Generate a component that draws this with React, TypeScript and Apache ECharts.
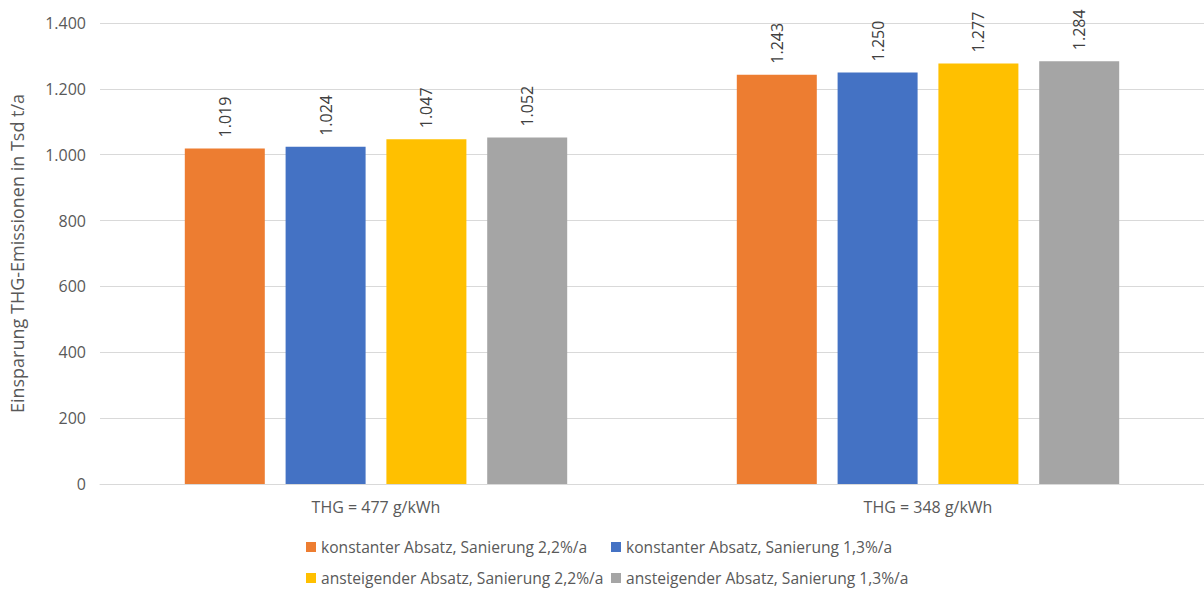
import React, { useEffect, useRef } from "react";
import * as echarts from "echarts";

const categories = ["THG = 477 g/kWh", "THG = 348 g/kWh"];
const seriesNames = [
  "konstanter Absatz, Sanierung 2,2%/a",
  "konstanter Absatz, Sanierung 1,3%/a",
  "ansteigender Absatz, Sanierung 2,2%/a",
  "ansteigender Absatz, Sanierung 1,3%/a",
];
const konstant22 = [1019, 1243];
const konstant13 = [1024, 1250];
const steigend22 = [1047, 1277];
const steigend13 = [1052, 1284];
const colors = ["#ED7D31", "#4472C4", "#FFC000", "#A5A5A5"];
const yTitle = "Einsparung THG-Emissionen in Tsd t/a";

const fmt = (v: number) => String(v).replace(/\B(?=(\d{3})+(?!\d))/g, ".");
const FONT = "'Open Sans', 'Noto Sans', sans-serif";

export default function App() {
  const ref = useRef<HTMLDivElement>(null);
  useEffect(() => {
    const chart = echarts.init(ref.current!, null, { renderer: "svg" });
    const values = [konstant22, konstant13, steigend22, steigend13];
    const legendPos = [
      { left: 306, top: 539 },
      { left: 611, top: 539 },
      { left: 306, top: 570 },
      { left: 611, top: 570 },
    ];
    chart.setOption({
      animation: false,
      color: colors,
      textStyle: { fontFamily: FONT },
      grid: { left: 91, right: -1, top: 23, bottom: 107, containLabel: false },
      legend: seriesNames.map((n, i) => ({
        data: [n],
        left: legendPos[i].left,
        top: legendPos[i].top,
        padding: 0,
        itemWidth: 10,
        itemHeight: 10,
        icon: "rect",
        itemGap: 5,
        textStyle: { color: "#595959", fontSize: 15.6, lineHeight: 16, fontFamily: FONT },
        selectedMode: false,
      })),
      xAxis: {
        type: "category",
        data: categories,
        axisLine: { lineStyle: { color: "#D9D9D9", width: 1 } },
        axisTick: { show: false },
        axisLabel: { color: "#595959", fontSize: 16, margin: 15, fontFamily: FONT },
      },
      yAxis: {
        type: "value",
        min: 0,
        max: 1400,
        interval: 200,
        name: yTitle,
        nameLocation: "middle",
        nameGap: 74,
        nameTextStyle: { color: "#595959", fontSize: 18, fontFamily: FONT },
        axisLine: { show: false },
        axisTick: { show: false },
        splitLine: { lineStyle: { color: "#D9D9D9", width: 1 } },
        axisLabel: {
          color: "#595959",
          fontSize: 16,
          margin: 14,
          fontFamily: FONT,
          formatter: (v: number) => fmt(v),
        },
      },
      series: seriesNames.map((n, i) => ({
        name: n,
        type: "bar",
        data: values[i],
        barWidth: 80,
        barGap: "26%",
        itemStyle: { color: colors[i] },
        label: {
          show: true,
          position: "top",
          rotate: 90,
          align: "left",
          verticalAlign: "middle",
          distance: 11,
          color: "#404040",
          fontSize: 16,
          fontFamily: FONT,
          formatter: (p: any) => fmt(p.value),
        },
      })),
    });
    return () => chart.dispose();
  }, []);
  return (
    <div
      ref={ref}
      style={{ position: "absolute", left: 0, top: 0, width: 1204, height: 591 }}
    />
  );
}
